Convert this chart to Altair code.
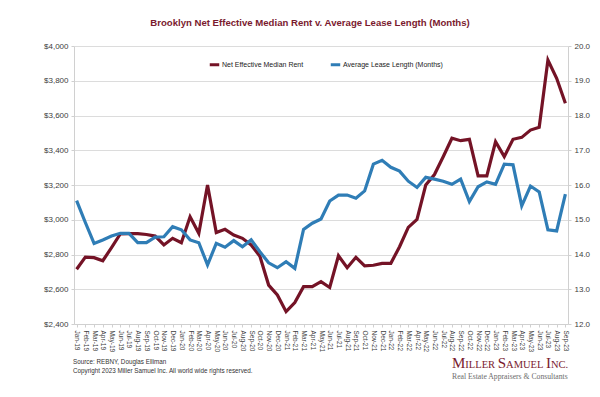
import altair as alt
import pandas as pd

months = ["Jan-19","Feb-19","Mar-19","Apr-19","May-19","Jun-19","Jul-19","Aug-19","Sep-19","Oct-19","Nov-19","Dec-19",
          "Jan-20","Feb-20","Mar-20","Apr-20","May-20","Jun-20","Jul-20","Aug-20","Sep-20","Oct-20","Nov-20","Dec-20",
          "Jan-21","Feb-21","Mar-21","Apr-21","May-21","Jun-21","Jul-21","Aug-21","Sep-21","Oct-21","Nov-21","Dec-21",
          "Jan-22","Feb-22","Mar-22","Apr-22","May-22","Jun-22","Jul-22","Aug-22","Sep-22","Oct-22","Nov-22","Dec-22",
          "Jan-23","Feb-23","Mar-23","Apr-23","May-23","Jun-23","Jul-23","Aug-23","Sep-23"]

rent = [2715, 2785, 2782, 2764, 2840, 2918, 2920, 2920, 2915, 2906, 2855, 2893,
        2868, 3017, 2922, 3200, 2926, 2945, 2912, 2893, 2855, 2790, 2624, 2567,
        2471, 2523, 2615, 2615, 2644, 2610, 2793, 2724, 2784, 2734, 2738, 2749,
        2749, 2845, 2956, 3002, 3200, 3260, 3363, 3469, 3455, 3463, 3252, 3252,
        3449, 3363, 3463, 3474, 3516, 3532, 3919, 3814, 3670]

lease = [15.55, 14.92, 14.32, 14.42, 14.53, 14.61, 14.61, 14.34, 14.34, 14.50, 14.51, 14.80,
         14.71, 14.42, 14.34, 13.70, 14.32, 14.21, 14.40, 14.22, 14.42, 14.08, 13.76, 13.62,
         13.79, 13.60, 14.72, 14.90, 15.02, 15.54, 15.71, 15.71, 15.62, 15.83, 16.60, 16.71,
         16.51, 16.40, 16.11, 15.93, 16.22, 16.17, 16.11, 16.02, 16.17, 15.52, 15.95, 16.09,
         16.02, 16.60, 16.58, 15.40, 15.97, 15.80, 14.71, 14.68, 15.74]

series = ["Net Effective Median Rent", "Average Lease Length (Months)"]
colors = ["#741326", "#2f7db6"]
left_ticks = [2400, 2600, 2800, 3000, 3200, 3400, 3600, 3800, 4000]
right_ticks = [12, 13, 14, 15, 16, 17, 18, 19, 20]

df = pd.DataFrame({"month": months, "rent": rent, "lease": lease})
df["s_rent"] = series[0]
df["s_lease"] = series[1]

W, H = 494, 278
FONT = "Liberation Sans"
SERIF = "Liberation Serif"

color_scale = alt.Scale(domain=series, range=colors)
xenc = alt.X("month:O", sort=months, scale=alt.Scale(type="point", padding=0.3),
             axis=alt.Axis(title=None, labelAngle=90, labelAlign="left", labelBaseline="middle",
                           labelFontSize=6.5, labelColor="#404040", labelPadding=3,
                           tickSize=3, tickColor="#d0d0d0", domainColor="#d0d0d0",
                           labelFont=FONT, grid=False))

rent_line = alt.Chart(df).mark_line(strokeWidth=3.2).encode(
    x=xenc,
    y=alt.Y("rent:Q", scale=alt.Scale(domain=[2400, 4000], nice=False, zero=False),
            axis=alt.Axis(title=None, values=left_ticks, format="$,.0f", labelFontSize=8,
                          labelColor="#404040", labelFont=FONT, grid=True, gridColor="#dcdcdc",
                          domainColor="#d0d0d0", tickColor="#d0d0d0", tickSize=3, labelPadding=3)),
    color=alt.Color("s_rent:N", scale=color_scale,
                    legend=alt.Legend(title=None, orient="none", legendX=134, legendY=12,
                                      direction="horizontal", symbolType="stroke",
                                      symbolStrokeWidth=3, symbolSize=90, labelFontSize=7,
                                      labelFont=FONT, labelColor="#222222", columnPadding=20,
                                      labelOffset=1)),
)

lease_line = alt.Chart(df).mark_line(strokeWidth=3.2).encode(
    x=xenc,
    y=alt.Y("lease:Q", scale=alt.Scale(domain=[12, 20], nice=False, zero=False),
            axis=alt.Axis(title=None, orient="right", values=right_ticks, format=".1f",
                          labelFontSize=8, labelColor="#404040", labelFont=FONT, grid=False,
                          domainColor="#d0d0d0", tickColor="#d0d0d0", tickSize=3, labelPadding=3)),
    color=alt.Color("s_lease:N", scale=color_scale),
)

one = alt.Data(values=[{}])

def txt(text, x, y, size, color, font=FONT, weight="normal", align="left"):
    return alt.Chart(one).mark_text(text=text, fontSize=size, color=color, font=font,
                                    fontWeight=weight, align=align, baseline="alphabetic").encode(
        x=alt.value(x), y=alt.value(y))

title = txt("Brooklyn Net Effective Median Rent v. Average Lease Length (Months)", 236, -20, 9.6,
            "#7a1a2e", weight="bold", align="center")
src = txt("Source: REBNY, Douglas Elliman", -1, 318, 6.3, "#333333")
copy = txt("Copyright 2023 Miller Samuel Inc.  All world wide rights reserved.", -1, 327, 6.3, "#333333")

# Logo in small caps built from pieces
B, S = 15, 10.5
pieces = [("M", B, .889), ("ILLER ", S, 3.083), ("S", B, .556), ("AMUEL ", S, 3.805),
          ("I", B, .333), ("NC.", S, 1.639)]
logo_layers = []
xpos = 378
for t, sz, w in pieces:
    logo_layers.append(txt(t, xpos, 322, sz, "#7a1a2e", font=SERIF))
    xpos += w * sz
tag = txt("Real Estate Appraisers & Consultants", 378, 333, 7.7, "#6b6b6b", font=SERIF)

lines = alt.layer(rent_line, lease_line).resolve_scale(y="independent")

chart = alt.layer(lines, title, src, copy, tag, *logo_layers).properties(
    width=W, height=H,
    autosize=alt.AutoSizeParams(type="none"),
    padding={"left": 66, "top": 38, "right": 24, "bottom": 73},
    background="white",
).configure_view(stroke=None)

chart.save("out.html", embed_options={"renderer": "svg", "actions": False})
